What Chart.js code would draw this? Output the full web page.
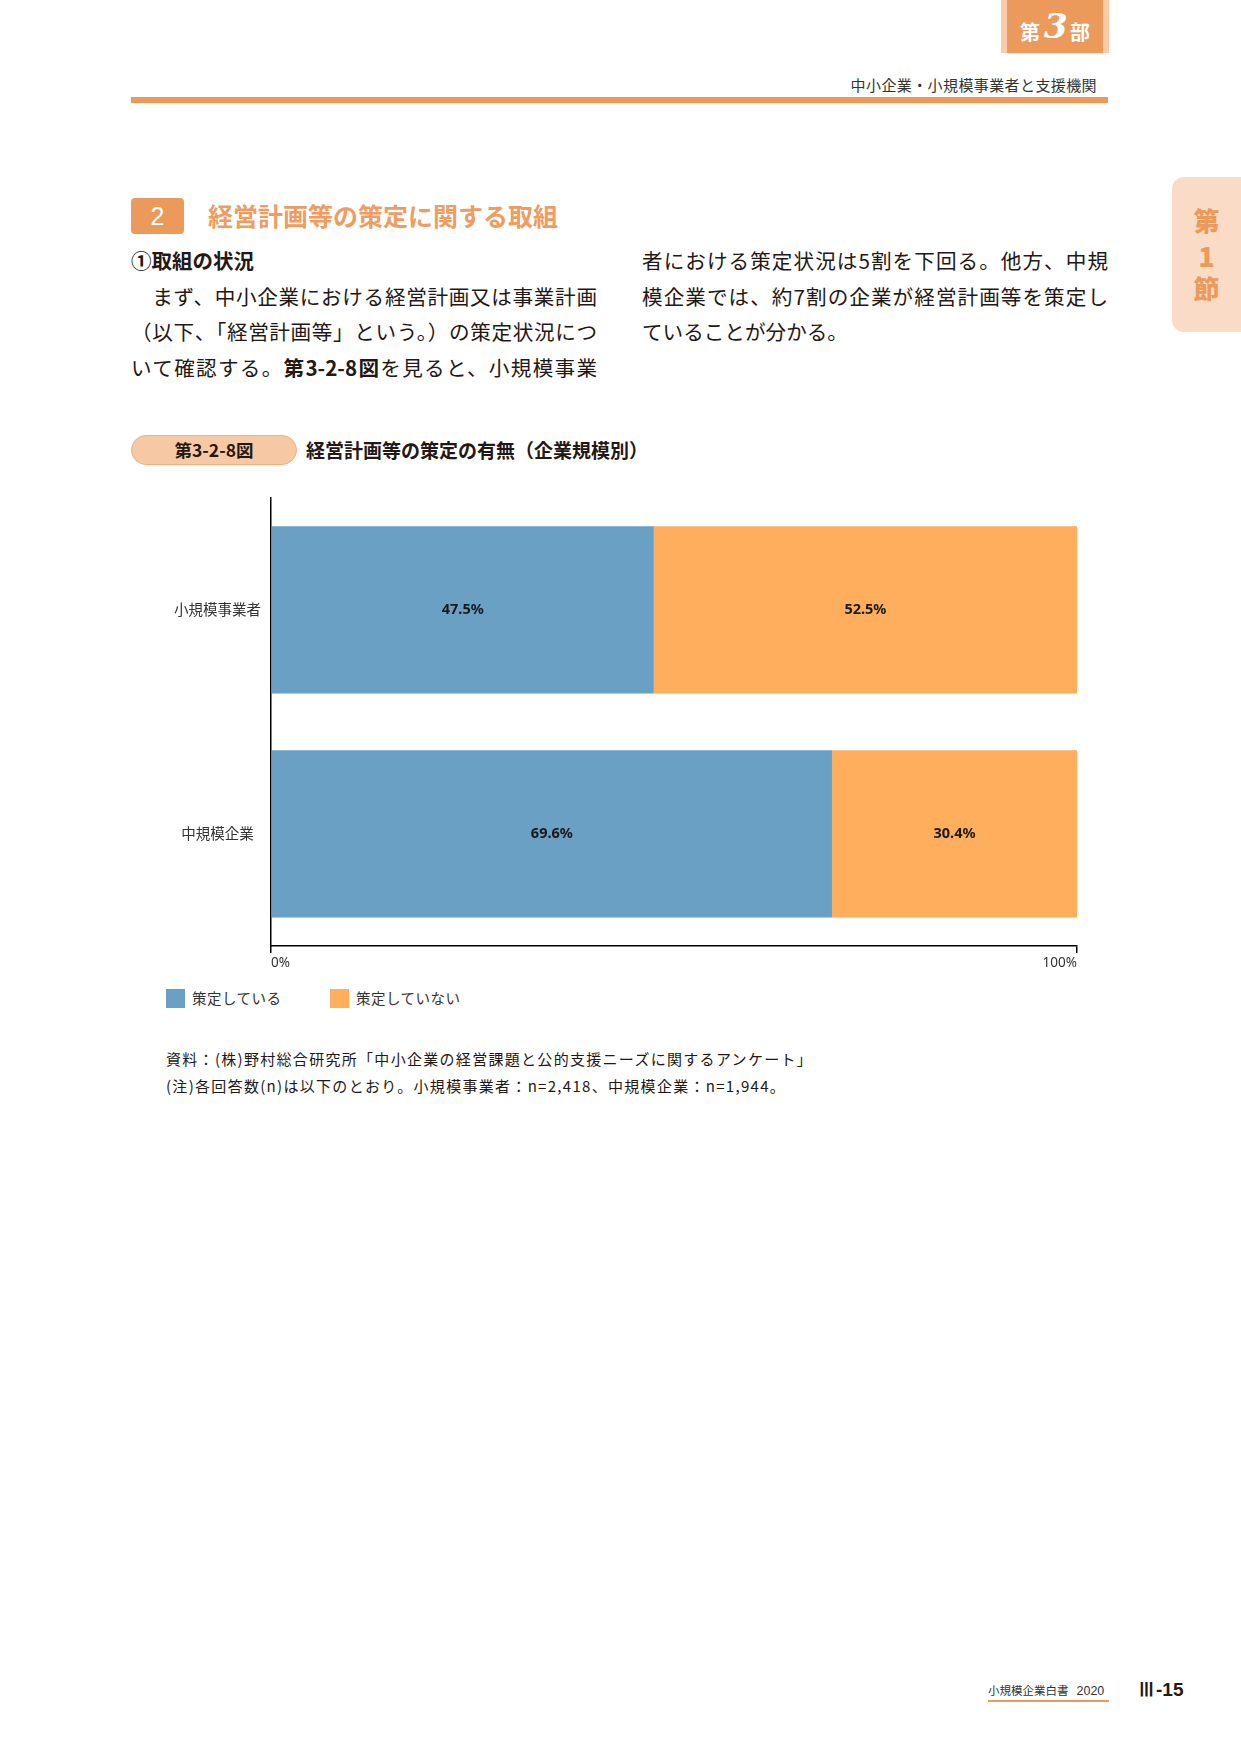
<!DOCTYPE html>
<html lang="ja">
<head>
<meta charset="utf-8">
<script src="https://cdn.jsdelivr.net/npm/chart.js@4.4.1/dist/chart.umd.min.js"></script>
<style>
  html, body { margin:0; padding:0; background:#fff; }
  body { width:1241px; height:1754px; position:relative; overflow:hidden;
         font-family:"Noto Sans CJK JP","Noto Sans",sans-serif; color:#231815; }
  .abs { position:absolute; }
  .line { position:absolute; font-size:20.6px; line-height:30px; height:30px; text-align:justify; text-align-last:justify; color:#231815; font-weight:400; }
  .note { position:absolute; left:166px; font-size:15px; letter-spacing:1.3px; line-height:22px; color:#231815; white-space:nowrap; }
</style>
</head>
<body>
<script>
// ---- data ----
const categories = ['小規模事業者', '中規模企業'];
const seriesNames = ['策定している', '策定していない'];
const plannedValues = [47.5, 69.6];
const notPlannedValues = [52.5, 30.4];
const xTickValues = [0, 100];
const seriesColors = ['#6AA0C3', '#FEAE5D'];
</script>

<!-- header badge -->
<div class="abs" style="left:1001px;top:0;width:108px;height:53px;background:#F8CCAA;"></div>
<div class="abs" style="left:1007px;top:0;width:96px;height:53px;background:#EC9A5C;"></div>
<div class="abs" style="left:1020px;top:18px;font-size:20px;font-weight:700;color:#fff;line-height:28px;">第</div>
<div class="abs" style="left:1044px;top:6px;font-size:34px;font-style:italic;font-weight:700;color:#fff;font-family:'DejaVu Serif',serif;line-height:40px;">3</div>
<div class="abs" style="left:1070px;top:18px;font-size:20px;font-weight:700;color:#fff;line-height:28px;">部</div>

<div class="abs" style="right:144px;top:74px;font-size:15px;letter-spacing:0.4px;line-height:22px;color:#333;white-space:nowrap;">中小企業・小規模事業者と支援機関</div>
<div class="abs" style="left:131px;top:97px;width:977px;height:6px;background:#EC9A5C;"></div>

<!-- side tab -->
<div class="abs" style="left:1172px;top:177px;width:80px;height:155px;background:#FADCC6;border-radius:12px;"></div>
<div class="abs" style="left:1172px;top:204px;width:69px;text-align:center;font-size:26px;font-weight:900;color:#EC9A5C;line-height:32px;">第</div>
<div class="abs" style="left:1172px;top:240px;width:69px;text-align:center;font-size:27px;font-weight:900;color:#EC9A5C;line-height:32px;">1</div>
<div class="abs" style="left:1172px;top:272px;width:69px;text-align:center;font-size:26px;font-weight:900;color:#EC9A5C;line-height:32px;">節</div>

<!-- section heading -->
<div class="abs" style="left:131px;top:198px;width:53px;height:36px;background:#EC9A5C;border-radius:4px;color:#fff;font-size:25px;line-height:36px;text-align:center;font-family:'Liberation Sans',sans-serif;">2</div>
<div class="abs" style="left:208px;top:199px;font-size:25px;font-weight:700;color:#EE9D62;line-height:32px;white-space:nowrap;">経営計画等の策定に関する取組</div>

<div class="abs" style="left:131px;top:245px;font-size:20.5px;font-weight:700;line-height:30px;white-space:nowrap;">①取組の状況</div>
<div class="line" style="left:131px;top:281px;width:466px;">　まず、中小企業における経営計画又は事業計画</div>
<div class="line" style="left:131px;top:316px;width:466px;">（以下、「経営計画等」という。）の策定状況につ</div>
<div class="line" style="left:131px;top:352px;width:466px;">いて確認する。<b>第3-2-8図</b>を見ると、小規模事業</div>
<div class="line" style="left:642px;top:245px;width:466px;">者における策定状況は5割を下回る。他方、中規</div>
<div class="line" style="left:642px;top:281px;width:466px;">模企業では、約7割の企業が経営計画等を策定し</div>
<div class="abs" style="left:642px;top:316px;font-size:20.6px;line-height:30px;white-space:nowrap;">ていることが分かる。</div>

<!-- figure label -->
<div class="abs" style="left:131px;top:435px;width:164px;height:28px;background:#F6C8A4;border:1px solid #F0B185;border-radius:15px;text-align:center;font-size:17.5px;font-weight:700;line-height:28px;color:#231815;">第3-2-8図</div>
<div class="abs" style="left:306px;top:436px;font-size:19px;font-weight:700;line-height:28px;white-space:nowrap;color:#231815;">経営計画等の策定の有無（企業規模別）</div>

<!-- chart -->
<div class="abs" style="left:150px;top:479px;width:940px;height:497px;">
  <canvas id="c" width="940" height="497"></canvas>
</div>

<!-- legend -->
<div id="legend"></div>

<!-- notes -->
<div class="note" style="top:1048px;">資料：(株)野村総合研究所「中小企業の経営課題と公的支援ニーズに関するアンケート」</div>
<div class="note" style="top:1075px;">(注)各回答数(n)は以下のとおり。小規模事業者：n=2,418、中規模企業：n=1,944。</div>

<!-- footer -->
<div class="abs" style="left:988px;top:1681px;font-size:11.5px;line-height:18px;color:#333;white-space:nowrap;">小規模企業白書<span style="font-family:'Liberation Sans',sans-serif;font-size:12.5px;margin-left:8px;">2020</span></div>
<div class="abs" style="left:988px;top:1700px;width:121px;height:1.5px;background:#EC9A5C;"></div>
<div class="abs" style="left:1137px;top:1677px;font-size:19px;font-weight:700;line-height:26px;color:#231815;font-family:'Liberation Sans',sans-serif;white-space:nowrap;">Ⅲ-15</div>

<script>
// legend built from series
const legendPos = [166, 330];
const lg = document.getElementById('legend');
seriesNames.forEach((name, i) => {
  const sq = document.createElement('div');
  sq.className = 'abs';
  sq.style.cssText = `left:${legendPos[i]}px;top:989px;width:19px;height:19px;background:${seriesColors[i]};`;
  lg.appendChild(sq);
  const t = document.createElement('div');
  t.className = 'abs';
  t.style.cssText = `left:${legendPos[i] + 26}px;top:987px;font-size:14.5px;letter-spacing:0.5px;line-height:22px;color:#333;white-space:nowrap;`;
  t.textContent = name;
  lg.appendChild(t);
});

const barLabels = {
  id: 'barLabels',
  afterDatasetsDraw(chart) {
    const ctx = chart.ctx;
    ctx.save();
    ctx.font = 'bold 14.5px "Noto Sans", "Liberation Sans", sans-serif';
    ctx.fillStyle = '#1a1a1a';
    ctx.textAlign = 'center';
    ctx.textBaseline = 'middle';
    chart.data.datasets.forEach((ds, i) => {
      chart.getDatasetMeta(i).data.forEach((bar, j) => {
        const p = bar.getCenterPoint();
        ctx.fillText(ds.data[j].toFixed(1) + '%', p.x, p.y);
      });
    });
    ctx.restore();
  }
};

new Chart(document.getElementById('c'), {
  type: 'bar',
  data: {
    labels: categories,
    datasets: [
      { label: seriesNames[0], data: plannedValues, backgroundColor: seriesColors[0], borderWidth: 0, barPercentage: 0.746, categoryPercentage: 1.0 },
      { label: seriesNames[1], data: notPlannedValues, backgroundColor: seriesColors[1], borderWidth: 0, barPercentage: 0.746, categoryPercentage: 1.0 }
    ]
  },
  options: {
    indexAxis: 'y',
    responsive: false,
    animation: false,
    layout: { padding: { top: 8, right: 13, bottom: 0, left: 0 } },
    plugins: { legend: { display: false }, tooltip: { enabled: false } },
    scales: {
      x: {
        stacked: true, min: 0, max: 100,
        afterBuildTicks: s => { s.ticks = xTickValues.map(v => ({ value: v })); },
        afterFit: s => { s.height = 30; },
        ticks: { align: 'inner', autoSkip: false, maxRotation: 0, padding: 2, color: '#333',
                 font: { family: '"Noto Sans", sans-serif', size: 13.5 },
                 callback: v => v + '%' },
        grid: { drawOnChartArea: false, drawTicks: true, tickLength: 7, color: '#000', lineWidth: 1.5 },
        border: { display: true, color: '#000', width: 1.5 }
      },
      y: {
        stacked: true,
        afterFit: s => { s.width = 121; },
        ticks: { crossAlign: 'center', padding: 10, color: '#333',
                 font: { family: '"Noto Sans CJK JP", sans-serif', size: 14.5 } },
        grid: { display: false, drawTicks: false },
        border: { display: true, color: '#000', width: 1.5 }
      }
    }
  },
  plugins: [barLabels]
});
</script>
</body>
</html>
